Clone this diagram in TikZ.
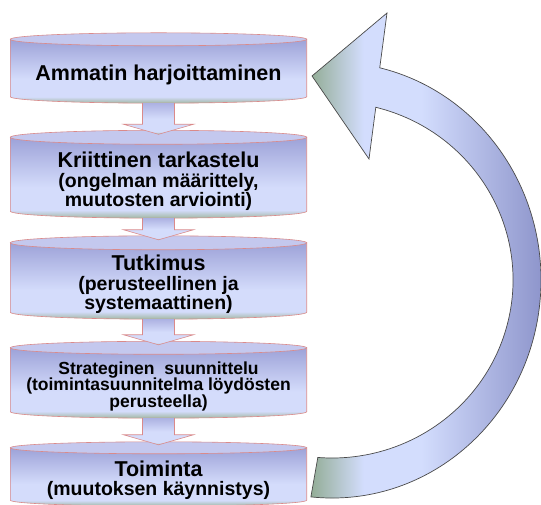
\documentclass[tikz,border=0pt]{standalone}
\usepackage{fontspec}
\setmainfont{Liberation Sans}
\usetikzlibrary{calc}

% colours of the stacked cylinders and the return loop
\definecolor{capfill}{HTML}{C4C8EE}
\definecolor{bodyblue}{HTML}{9DA2D8}
\definecolor{bodylight}{HTML}{D4DCFB}
\definecolor{bodygreen}{HTML}{A0B7A2}
\definecolor{flowblue}{HTML}{ADB2E2}
\definecolor{edgepink}{HTML}{DA8A8A}
\definecolor{loopgreen}{HTML}{93AD96}
\definecolor{looplight}{HTML}{D3DDFD}
\definecolor{loopblue}{HTML}{8990C8}
\definecolor{loopedge}{HTML}{4A4A4A}

% gradients (the path's bounding box covers 25bp..75bp)
\pgfdeclareverticalshading{cylbody}{100bp}{color(0bp)=(bodygreen); color(25bp)=(bodygreen); color(30bp)=(bodylight); color(44bp)=(bodylight); color(75bp)=(bodyblue); color(100bp)=(bodyblue)}
\pgfdeclareverticalshading{flowbody}{100bp}{color(0bp)=(bodygreen); color(25bp)=(bodygreen); color(29bp)=(bodylight); color(50bp)=(bodylight); color(75bp)=(flowblue); color(100bp)=(flowblue)}
\pgfdeclarehorizontalshading{loopbody}{100bp}{color(0bp)=(loopgreen); color(25bp)=(loopgreen); color(36bp)=(looplight); color(48bp)=(looplight); color(75bp)=(loopblue); color(100bp)=(loopblue)}

\pgfdeclarelayer{back}
\pgfsetlayers{back,main}

\tikzset{
  stage/.style={minimum width=296pt, inner sep=0pt, align=center,
    font={\bfseries\fontsize{19.5}{19.5}\selectfont}},
  cylrim/.style={draw=edgepink, line width=.6pt},
}
\newcommand\titlesize{\fontsize{21.5}{19.5}\selectfont}

% cylinder drawn around a node: #1 node name, #2 half height of the end ellipses
\newcommand\drawcylinder[2]{%
  \shade[shading=cylbody, cylrim]
    let \p1=(#1.north west), \p2=(#1.south east), \n1={(\x2-\x1)/2} in
    (\x1,\y1+#2pt) -- (\x1,\y2+#2pt)
    arc[start angle=180, end angle=360, x radius=\n1, y radius=#2pt]
    -- (\x2,\y1+#2pt) -- cycle;
  \filldraw[fill=capfill, cylrim]
    let \p1=(#1.north), \p2=(#1.north east), \n1={\x2-\x1} in
    (\x1,\y1+#2pt) ellipse[x radius=\n1, y radius=#2pt];
}

% block arrow from the bottom of node #1 into the top cap of node #2 (#3: cap half height)
\newcommand\flowarrow[3]{%
  \shade[shading=flowbody]
    let \p1=(#1.south), \p2=(#2.north), \n1={\y2+#3pt+13pt}, \n2={\y2+#3pt+3pt} in
    (\x1-16pt,\y1) -- (\x1-16pt,\n1) -- (\x1-35pt,\n1) -- (\x1,\n2)
    -- (\x1+35pt,\n1) -- (\x1+16pt,\n1) -- (\x1+16pt,\y1) -- cycle;
  \draw[cylrim, line join=miter]
    let \p1=(#1.south), \p2=(#2.north), \n1={\y2+#3pt+13pt}, \n2={\y2+#3pt+3pt} in
    (\x1-16pt,\y1) -- (\x1-16pt,\n1) -- (\x1-35pt,\n1) -- (\x1,\n2)
    -- (\x1+35pt,\n1) -- (\x1+16pt,\n1) -- (\x1+16pt,\y1);
}

\begin{document}
\begin{tikzpicture}[x=1pt, y=1pt]
  \useasboundingbox (0,0) rectangle (541,505);

  % text blocks of the five stages
  \node[stage, minimum height=57pt] (c1) at (158.5,430.5)
    {\titlesize Ammatin harjoittaminen};
  \node[stage, minimum height=73.5pt] (c2) at (158.5,323.75)
    {{\titlesize Kriittinen tarkastelu}\\(ongelman määrittely,\\muutosten arviointi)};
  \node[stage, minimum height=69pt] (c3) at (158.5,220.5)
    {{\titlesize Tutkimus}\\(perusteellinen ja\\systemaattinen)};
  \node[stage, minimum height=63.5pt, font={\bfseries\fontsize{17.5}{16.5}\selectfont}] (c4) at (158.5,118.75)
    {Strateginen\ \ suunnittelu\\(toimintasuunnitelma löydösten\\perusteella)};
  \node[stage, minimum height=52pt] (c5) at (158.5,25)
    {{\titlesize Toiminta}\\(muutoksen käynnistys)};

  % cylinder bodies behind the text
  \begin{pgfonlayer}{back}
    \drawcylinder{c1}{6.5}
    \drawcylinder{c2}{7}
    \drawcylinder{c3}{7}
    \drawcylinder{c4}{6.5}
    \drawcylinder{c5}{6}
  \end{pgfonlayer}

  % downward steps
  \flowarrow{c1}{c2}{7}
  \flowarrow{c2}{c3}{7}
  \flowarrow{c3}{c4}{6.5}
  \flowarrow{c4}{c5}{6}

  % curved return arrow from the last stage back to the first
  \shade[shading=loopbody, draw=loopedge, line width=.7pt, line join=miter]
    (310.9,8.1)
    arc[start angle=-95.8, end angle=76.8, x radius=209, y radius=218]
    -- (387,492) -- (312,429) -- (369,346) -- (375.8,397.7)
    arc[start angle=76, end angle=-94.5, x radius=181, y radius=178]
    -- cycle;
\end{tikzpicture}
\end{document}
